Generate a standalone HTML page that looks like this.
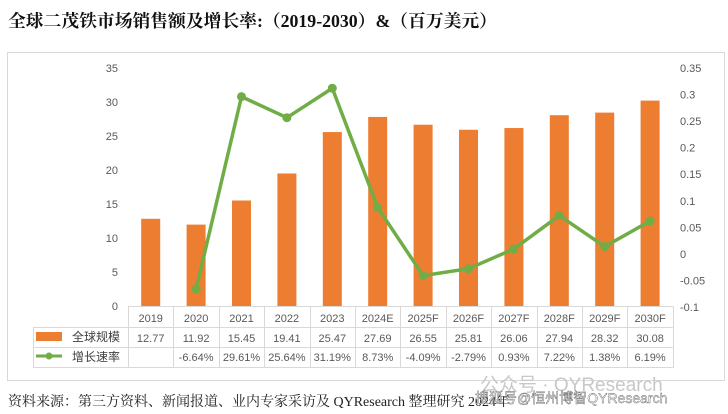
<!DOCTYPE html>
<html><head><meta charset="utf-8"><style>
body{margin:0;background:#fff;width:728px;height:414px;overflow:hidden}
svg{display:block;font-family:"Liberation Sans","Noto Sans CJK SC",sans-serif}
</style></head><body>
<svg width="728" height="414" xmlns="http://www.w3.org/2000/svg">
<text x="8" y="27" font-family="Liberation Serif,'Noto Serif CJK SC',serif" font-weight="bold" font-size="17.8" fill="#111">全球二茂铁市场销售额及增长率:（2019-2030）&amp;（百万美元）</text>
<rect x="7.5" y="52.5" width="717" height="328" fill="#fff" stroke="#d9d9d9"/>
<g font-size="11" fill="#595959" text-anchor="end">
<text x="118" y="72">35</text><text x="118" y="106">30</text><text x="118" y="140">25</text><text x="118" y="174">20</text><text x="118" y="208">15</text><text x="118" y="242">10</text><text x="118" y="276">5</text><text x="118" y="310">0</text>
</g>
<g font-size="11" fill="#595959" id="rax"></g>
<g fill="#ed7d31" id="bars"></g>
<g stroke="#d9d9d9" fill="none" id="grid"></g>
<g font-size="11" fill="#595959" text-anchor="middle" id="txt"></g>
<polyline id="line" fill="none" stroke="#70ad47" stroke-width="3.5" stroke-linejoin="round"/>
<g fill="#70ad47" id="dots"></g>
<rect x="36" y="332" width="26" height="9" fill="#ed7d31"/>
<text x="72" y="341" font-size="12" fill="#404040">全球规模</text>
<line x1="36" y1="356" x2="62" y2="356" stroke="#70ad47" stroke-width="3"/>
<circle cx="49" cy="356" r="3.5" fill="#70ad47"/>
<text x="72" y="361" font-size="12" fill="#404040">增长速率</text>
<text x="8" y="406" font-size="14" fill="#222" font-family="Liberation Serif,'Noto Serif CJK SC',serif">资料来源：第三方资料、新闻报道、业内专家采访及 QYResearch 整理研究 2024年</text>
<text x="480" y="391" font-size="19" fill="#c8c8c8">公众号 · QYResearch</text>
<text x="475" y="403" font-size="14" fill="#fff" stroke="#555" stroke-width="0.4">搜狐号@恒州博智QYResearch</text>
<script>
var L=["2019","2020","2021","2022","2023","2024E","2025F","2026F","2027F","2028F","2029F","2030F"];
var V=[12.77,11.92,15.45,19.41,25.47,27.69,26.55,25.81,26.06,27.94,28.32,30.08];
var R=[null,-6.64,29.61,25.64,31.19,8.73,-4.09,-2.79,0.93,7.22,1.38,6.19];
var NS="http://www.w3.org/2000/svg";
function el(t,a,p,tx){var e=document.createElementNS(NS,t);for(var k in a)e.setAttribute(k,a[k]);if(tx)e.textContent=tx;document.getElementById(p).appendChild(e);return e;}
var RL=["0.35","0.3","0.25","0.2","0.15","0.1","0.05","0","-0.05","-0.1"];
for(var k=0;k<10;k++)el("text",{x:680,y:72+k*239/9},"rax",RL[k]);
var w=45.4,x0=128,pts=[];
for(var i=0;i<12;i++){var c=x0+w*(i+0.5);var h=V[i]*239/35;
el("rect",{x:c-9.5,y:306-h,width:19,height:h},"bars");
el("text",{x:c,y:322},"txt",L[i]);
el("text",{x:c,y:342},"txt",V[i].toFixed(2));
if(R[i]!==null){el("text",{x:c,y:361},"txt",R[i].toFixed(2)+"%");
var y=68+(0.35-R[i]/100)/0.45*239;pts.push(c+","+y);el("circle",{cx:c,cy:y,r:4.5},"dots");}}
document.getElementById("line").setAttribute("points",pts.join(" "));
el("line",{x1:x0,y1:306.5,x2:x0+12*w,y2:306.5},"grid");
el("line",{x1:33,y1:327.5,x2:x0+12*w,y2:327.5},"grid");
el("line",{x1:33,y1:347.5,x2:x0+12*w,y2:347.5},"grid");
el("line",{x1:33,y1:367.5,x2:x0+12*w,y2:367.5},"grid");
el("line",{x1:33.5,y1:327,x2:33.5,y2:368},"grid");
for(var i=0;i<=12;i++){var xx=Math.round(x0+w*i)+0.5;el("line",{x1:xx,y1:306,x2:xx,y2:368},"grid");}
</script>
</svg>
</body></html>
